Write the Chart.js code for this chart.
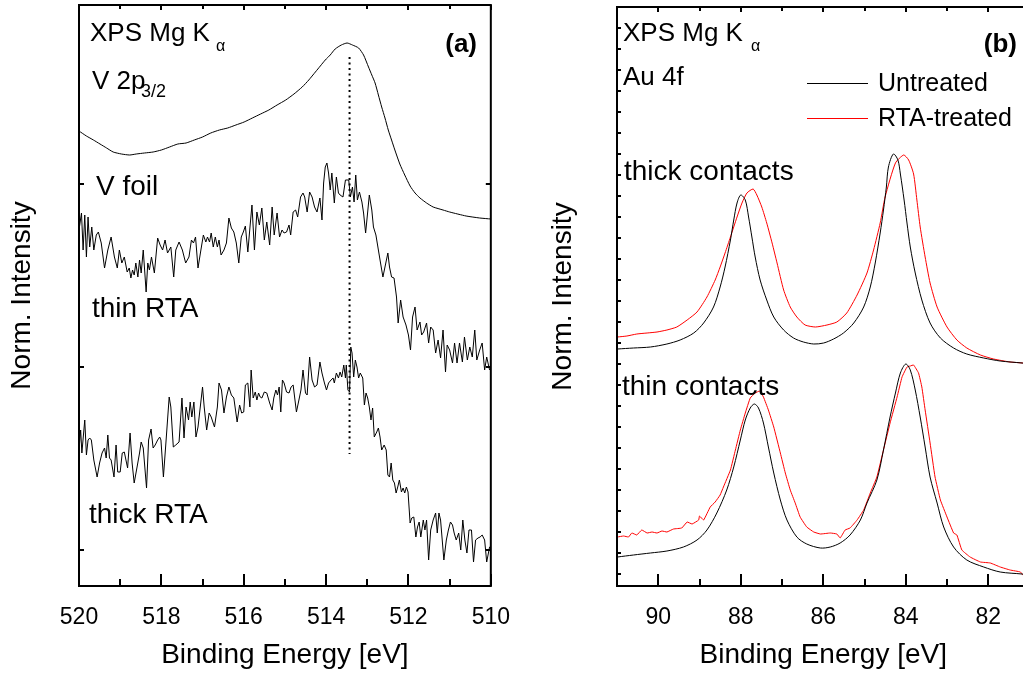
<!DOCTYPE html>
<html>
<head>
<meta charset="utf-8">
<script src="https://cdn.jsdelivr.net/npm/chart.js@4/dist/chart.umd.min.js"></script>
<style>
  html, body { margin: 0; padding: 0; background: #fff; overflow: hidden; width: 1023px; height: 674px; }
  canvas { position: absolute; top: 0; }
  #vPanel { left: 0; }
  #auPanel { left: 540px; }
</style>
</head>
<body>
<canvas id="vPanel" width="520" height="674"></canvas>
<canvas id="auPanel" width="510" height="674"></canvas>
<script>
// ---------- (a) V 2p3/2 spectra: binding energy [eV] / normalised intensity ----------
const vFoilE = [520.00,519.82,519.65,519.49,519.33,519.17,518.97,518.77,518.61,518.41,518.20,518.00,517.80,517.60,517.40,517.20,517.00,516.80,516.59,516.39,516.19,515.99,515.79,515.59,515.39,515.19,514.98,514.78,514.58,514.42,514.26,514.14,514.02,513.90,513.78,513.63,513.49,513.36,513.21,513.09,512.97,512.89,512.81,512.73,512.65,512.57,512.49,512.41,512.33,512.21,512.09,511.96,511.84,511.72,511.56,511.40,511.16,511.00,510.60,510.27,510.00];
const vFoilI = [4.19,4.14,4.10,4.06,4.02,3.98,3.96,3.95,3.96,3.97,3.98,4.00,4.03,4.06,4.07,4.10,4.13,4.17,4.20,4.22,4.25,4.28,4.32,4.36,4.40,4.45,4.50,4.56,4.63,4.70,4.78,4.84,4.90,4.95,5.01,5.05,5.07,5.05,5.02,4.95,4.83,4.75,4.67,4.55,4.43,4.32,4.20,4.10,4.00,3.86,3.75,3.64,3.57,3.52,3.47,3.43,3.40,3.38,3.34,3.32,3.31];

const thinRtaE = [
  520.00,519.94,519.90,519.86,519.82,519.78,519.74,519.69,519.64,519.58,
  519.53,519.46,519.38,519.30,519.22,519.14,519.07,519.02,518.96,518.90,
  518.83,518.78,518.74,518.70,518.66,518.62,518.57,518.53,518.49,518.44,
  518.37,518.33,518.29,518.24,518.17,518.09,518.03,517.97,517.91,517.85,
  517.77,517.70,517.65,517.57,517.49,517.41,517.33,517.27,517.22,517.17,
  517.11,517.04,516.98,516.92,516.88,516.83,516.79,516.74,516.69,516.64,
  516.60,516.55,516.48,516.42,516.36,516.30,516.24,516.18,516.12,516.06,
  516.01,515.96,515.90,515.85,515.80,515.74,515.68,515.62,515.56,515.50,
  515.44,515.37,515.31,515.26,515.19,515.13,515.07,
  515.02,514.96,514.90,514.86,514.80,514.74,514.69,514.62,514.56,514.52,
  514.46,514.40,514.34,514.28,514.22,514.15,514.10,514.06,514.02,513.98,
  513.94,513.90,513.86,513.80,513.75,513.70,513.66,513.59,513.53,513.45,
  513.41,513.36,513.32,513.28,513.24,513.19,513.13,513.09,513.04,512.99,
  512.95,512.89,512.85,512.79,512.73,512.69,512.62,512.57,512.50,512.46,
  512.41,512.35,512.29,512.25,512.19,512.13,512.06,512.00,511.95,511.90,
  511.84,511.79,511.72,511.68,511.63,511.56,511.51,511.46,511.40,511.34,
  511.28,511.22,511.16,511.10,511.06,511.00,510.93,510.88,510.82,510.76,
  510.69,510.64,510.57,510.51,510.45,510.39,510.34,510.27,510.21,510.15,
  510.10,510.03];
const thinRtaI = [
  3.20,3.37,3.00,3.35,2.93,3.33,3.03,3.23,3.00,3.15,
  3.18,3.07,2.82,3.00,3.13,2.93,2.82,3.00,2.87,2.93,
  2.78,2.82,2.72,2.80,2.75,2.87,2.73,2.90,2.77,3.00,
  2.58,2.87,2.80,2.93,2.77,3.12,3.05,3.00,3.10,2.97,
  3.03,2.73,3.00,3.08,3.00,2.87,2.93,3.10,3.07,3.13,
  2.82,3.00,3.15,3.08,3.13,3.08,3.17,3.03,3.13,3.03,
  3.10,2.95,3.00,3.07,3.32,3.22,3.18,3.07,2.87,3.13,
  3.18,3.24,2.98,3.22,3.45,3.00,3.38,3.25,3.42,3.10,
  3.28,3.05,3.43,3.15,3.37,3.13,3.20,
  3.17,3.18,3.25,3.15,3.38,3.40,3.33,3.53,3.57,3.53,
  3.38,3.58,3.53,3.43,3.38,3.52,3.30,3.67,3.83,3.87,
  3.77,3.60,3.77,3.47,3.73,3.57,3.55,3.53,3.70,3.70,
  3.53,3.63,3.48,3.75,3.50,3.58,3.48,3.37,3.17,3.38,
  3.55,3.40,3.23,3.15,3.00,2.90,2.73,2.83,2.97,2.83,
  2.73,2.72,2.53,2.27,2.50,2.33,2.25,2.15,2.00,2.33,
  2.43,2.20,2.28,2.15,2.18,2.27,2.07,2.23,2.20,1.97,
  2.10,1.92,2.20,1.78,2.05,2.00,1.87,2.07,1.87,2.07,
  1.88,2.13,1.90,2.03,1.93,2.20,1.90,2.00,2.07,1.80,
  1.93,1.80];

const thickRtaE = [
  520.00,519.96,519.93,519.86,519.82,519.78,519.74,519.70,519.64,519.56,
  519.50,519.44,519.38,519.34,519.30,519.26,519.22,519.15,519.10,519.06,
  519.00,518.95,518.90,518.86,518.82,518.76,518.71,518.66,518.59,518.53,
  518.49,518.44,518.36,518.31,518.25,518.20,518.15,518.09,518.04,518.01,
  517.95,517.89,517.81,517.77,517.71,517.65,517.57,517.50,517.45,517.40,
  517.34,517.30,517.26,517.21,517.16,517.11,517.00,516.96,516.90,516.84,
  516.79,516.71,516.64,516.60,516.54,516.48,516.42,516.36,516.30,516.24,
  516.16,516.10,516.05,516.00,515.96,515.90,515.85,515.82,515.77,515.72,
  515.68,515.64,515.60,515.56,515.50,515.44,515.37,515.31,515.27,515.22,
  515.18,515.14,515.10,515.06,
  515.02,514.96,514.90,514.85,514.80,514.72,514.66,514.61,514.56,514.50,
  514.46,514.40,514.34,514.28,514.22,514.15,514.10,514.04,513.99,513.94,
  513.88,513.83,513.80,513.75,513.70,513.66,513.62,513.57,513.53,513.51,
  513.47,513.43,513.40,513.37,513.33,513.29,513.25,513.21,513.17,513.11,
  513.07,513.03,512.99,512.95,512.91,512.87,512.83,512.77,512.73,512.69,
  512.65,512.59,512.54,512.50,512.46,512.42,512.38,512.34,512.30,512.26,
  512.22,512.17,512.13,512.09,512.05,512.01,511.96,511.92,511.87,511.82,
  511.78,511.74,511.70,511.64,511.60,511.56,511.51,511.46,511.40,511.34,
  511.30,511.26,511.22,511.18,511.14,511.08,511.03,510.98,510.93,510.89,
  510.84,510.78,510.73,510.68,510.63,510.58,510.53,510.47,510.42,510.37,
  510.31,510.26,510.21,510.15,510.10,510.03,510.00];
const thickRtaI = [
  1.00,1.20,0.97,1.30,0.95,1.10,1.12,1.10,0.90,0.73,
  0.87,0.97,1.02,0.92,1.15,0.92,0.90,0.73,1.05,0.78,
  0.78,0.97,0.98,0.90,0.82,1.17,0.87,0.67,0.83,0.97,
  1.08,1.02,0.62,1.10,1.21,1.02,1.05,1.10,1.13,1.10,
  0.73,1.07,1.53,1.43,1.03,1.05,1.08,1.52,1.12,1.43,
  1.30,1.48,1.33,1.48,1.13,1.23,1.63,1.43,1.20,1.37,
  1.33,1.23,1.43,1.67,1.60,1.37,1.53,1.63,1.55,1.52,
  1.28,1.45,1.37,1.38,1.65,1.67,1.43,1.80,1.52,1.58,
  1.50,1.57,1.53,1.52,1.58,1.57,1.47,1.40,1.52,1.60,
  1.55,1.63,1.38,1.70,
  1.67,1.58,1.57,1.63,1.65,1.38,1.50,1.60,1.80,1.57,
  1.55,1.93,1.70,1.63,1.65,1.88,1.77,1.67,1.60,1.67,
  1.70,1.72,1.67,1.77,1.72,1.78,1.73,1.85,1.72,1.85,
  1.60,1.58,2.03,1.97,1.73,1.90,1.83,1.72,1.77,1.72,
  1.45,1.57,1.52,1.43,1.30,1.42,1.13,1.18,1.22,1.13,
  1.00,1.05,1.00,0.75,0.73,0.87,0.70,0.67,0.57,0.63,
  0.70,0.58,0.62,0.57,0.63,0.58,0.27,0.32,0.33,0.13,
  0.23,0.28,0.13,0.30,0.20,0.30,-0.10,0.20,0.30,0.37,
  0.17,0.37,0.30,0.10,-0.10,0.10,0.20,0.28,0.25,0.17,
  0.10,0.17,0.00,0.30,0.10,-0.03,0.20,0.20,-0.12,0.10,
  0.12,0.13,0.15,0.10,-0.12,0.03,0.03];

// V-foil peak position marker (dotted)
const peakMarkE = [513.43, 513.43];
const peakMarkI = [4.93, 0.96];

const vEnergyTicks = [520, 518, 516, 514, 512, 510];

// ---------- (b) Au 4f spectra ----------
const thickUntreatedE = [90.99,90.60,90.19,89.79,89.47,89.14,88.90,88.66,88.50,88.38,88.25,88.17,88.09,88.00,87.89,87.81,87.73,87.65,87.53,87.37,87.20,86.96,86.72,86.48,86.23,85.99,85.75,85.51,85.26,85.02,84.86,84.74,84.62,84.54,84.47,84.42,84.30,84.19,84.13,84.04,83.97,83.89,83.77,83.61,83.41,83.16,82.84,82.52,82.11,81.71,81.18,81.00];
const thickUntreatedI = [2.25,2.26,2.27,2.30,2.34,2.41,2.51,2.67,2.87,3.07,3.34,3.54,3.71,3.79,3.74,3.57,3.37,3.17,2.94,2.74,2.57,2.44,2.36,2.32,2.30,2.31,2.35,2.41,2.51,2.67,2.87,3.11,3.41,3.64,3.87,4.07,4.20,4.14,4.00,3.74,3.51,3.27,3.01,2.74,2.51,2.36,2.26,2.20,2.16,2.13,2.11,2.10];

const thickTreatedE = [90.99,90.76,90.52,90.27,90.03,89.79,89.55,89.30,89.06,88.82,88.62,88.50,88.38,88.25,88.09,87.97,87.85,87.70,87.61,87.49,87.37,87.24,87.12,86.96,86.80,86.64,86.44,86.19,85.91,85.67,85.43,85.18,84.94,84.78,84.62,84.50,84.25,84.05,83.93,83.81,83.73,83.65,83.53,83.41,83.24,83.00,82.76,82.52,82.19,81.87,81.47,81.16,81.00];
const thickTreatedI = [2.37,2.38,2.40,2.41,2.42,2.44,2.47,2.54,2.62,2.77,2.94,3.07,3.21,3.37,3.57,3.71,3.81,3.85,3.79,3.67,3.51,3.31,3.11,2.84,2.67,2.57,2.49,2.47,2.49,2.52,2.61,2.79,3.01,3.24,3.51,3.77,4.11,4.19,4.14,4.00,3.74,3.47,3.17,2.91,2.67,2.47,2.34,2.26,2.19,2.15,2.12,2.11,2.10];

const thinUntreatedE = [90.99,90.60,90.19,89.79,89.39,89.06,88.82,88.58,88.34,88.17,88.01,87.89,87.77,87.67,87.57,87.45,87.33,87.20,87.04,86.88,86.64,86.40,86.07,85.83,85.59,85.35,85.10,84.94,84.70,84.54,84.38,84.25,84.13,84.00,83.89,83.77,83.65,83.53,83.41,83.24,83.08,82.84,82.52,82.11,81.71,81.18,81.00];
const thinUntreatedI = [0.17,0.19,0.21,0.23,0.27,0.34,0.44,0.61,0.84,1.07,1.34,1.54,1.66,1.70,1.66,1.51,1.27,1.01,0.74,0.54,0.37,0.30,0.26,0.27,0.31,0.39,0.54,0.71,0.94,1.24,1.57,1.81,2.01,2.10,2.04,1.84,1.57,1.27,0.97,0.71,0.47,0.27,0.14,0.07,0.02,0.00,-0.01];

const thinTreatedE = [90.99,90.84,90.72,90.64,90.52,90.40,90.27,90.15,90.03,89.91,89.79,89.63,89.43,89.30,89.18,89.02,89.00,88.90,88.74,88.62,88.50,88.42,88.25,88.13,88.01,87.89,87.77,87.65,87.54,87.45,87.33,87.20,87.04,86.92,86.80,86.68,86.56,86.40,86.23,86.07,85.83,85.67,85.59,85.47,85.35,85.18,85.02,84.86,84.70,84.54,84.38,84.21,84.09,83.97,83.89,83.81,83.69,83.61,83.53,83.41,83.29,83.16,83.00,82.84,82.76,82.64,82.44,82.19,81.95,81.71,81.47,81.22,81.16,81.00];
const thinTreatedI = [0.37,0.38,0.37,0.41,0.39,0.44,0.41,0.42,0.41,0.43,0.42,0.45,0.46,0.52,0.50,0.54,0.58,0.54,0.67,0.72,0.79,0.87,1.04,1.24,1.44,1.61,1.76,1.81,1.83,1.77,1.64,1.47,1.21,1.01,0.84,0.71,0.57,0.47,0.42,0.40,0.41,0.40,0.36,0.44,0.46,0.54,0.64,0.81,0.97,1.24,1.51,1.77,1.97,2.07,2.08,2.09,2.01,1.87,1.64,1.31,0.97,0.74,0.57,0.41,0.39,0.24,0.17,0.12,0.11,0.07,0.04,0.02,-0.01,0.00];

const auEnergyTicks = [90, 88, 86, 84, 82];

const seriesNames = ['Untreated', 'RTA-treated'];

// ---------- shared drawing helpers ----------
const FONT = "'Liberation Sans', Arial, Helvetica, sans-serif";
Chart.defaults.font.family = FONT;
Chart.defaults.color = '#000';

const pairs = (e, v) => e.map((x, i) => ({ x, y: v[i] }));

// Closed frame with inward-pointing ticks on all four sides
const framePlugin = {
  id: 'frame',
  afterDatasetsDraw(chart, args, o) {
    const { ctx, chartArea: a, scales: { x, y } } = chart;
    ctx.save();
    ctx.strokeStyle = '#000';
    ctx.lineCap = 'butt';
    ctx.lineWidth = 2;
    ctx.beginPath();
    const majors = x.ticks.map(t => t.value);
    for (let v = Math.ceil(x.min); v <= Math.floor(x.max); v++) {
      const px = Math.round(x.getPixelForValue(v));
      const major = majors.includes(v);
      const lb = major ? o.xMajor : o.xMinor;
      const lt = major ? o.topMajor : o.topMinor;
      ctx.moveTo(px, a.bottom); ctx.lineTo(px, a.bottom - lb);
      ctx.moveTo(px, a.top); ctx.lineTo(px, a.top + lt);
    }
    const k0 = Math.ceil(y.min / o.yStep - 1e-6), k1 = Math.floor(y.max / o.yStep + 1e-6);
    for (let k = k0; k <= k1; k++) {
      const py = Math.round(y.getPixelForValue(k * o.yStep));
      ctx.moveTo(a.left, py); ctx.lineTo(a.left + o.yLen, py);
      ctx.moveTo(a.right, py); ctx.lineTo(a.right - o.yLen, py);
    }
    ctx.stroke();
    ctx.strokeRect(a.left, a.top, a.right - a.left, a.bottom - a.top);
    ctx.restore();
  }
};

// Free text annotations inside the panels
const notesPlugin = {
  id: 'notes',
  afterDatasetsDraw(chart, args, o) {
    const { ctx } = chart;
    ctx.save();
    ctx.fillStyle = '#000';
    ctx.textBaseline = 'alphabetic';
    for (const n of o.items) {
      ctx.font = `${n.bold ? 'bold ' : ''}${n.size}px ${FONT}`;
      ctx.textAlign = n.align || 'left';
      ctx.fillText(n.text, n.x, n.y);
    }
    ctx.restore();
  }
};

// Line-sample legend built from the labelled datasets
const keyPlugin = {
  id: 'key',
  afterDatasetsDraw(chart, args, o) {
    if (!o.display) return;
    const { ctx } = chart;
    const items = chart.data.datasets.filter(d => d.label);
    ctx.save();
    ctx.font = `${o.size}px ${FONT}`;
    ctx.textBaseline = 'middle';
    ctx.textAlign = 'left';
    items.forEach((d, i) => {
      const yy = o.y + i * o.gap;
      ctx.strokeStyle = d.borderColor;
      ctx.lineWidth = 1;
      ctx.beginPath();
      ctx.moveTo(o.x, yy + 0.5); ctx.lineTo(o.x + o.len, yy + 0.5);
      ctx.stroke();
      ctx.fillStyle = '#000';
      ctx.fillText(d.label, o.x + o.len + 10, yy + 1);
    });
    ctx.restore();
  }
};

function axisOptions(xmin, xmax, ymin, ymax, tickList, yWidth, yTitlePad) {
  return {
    x: {
      type: 'linear', min: xmin, max: xmax, reverse: true,
      afterBuildTicks: s => { s.ticks = tickList.map(value => ({ value })); },
      afterFit: s => { s.height = 88; },
      grid: { display: false }, border: { display: false },
      ticks: { font: { size: 23 }, padding: 10, color: '#000', maxRotation: 0, autoSkip: false },
      title: { display: true, text: 'Binding Energy [eV]', font: { size: 28 }, color: '#000', padding: { top: 0, bottom: 2 } }
    },
    y: {
      type: 'linear', min: ymin, max: ymax,
      afterFit: s => { s.width = yWidth; },
      grid: { display: false }, border: { display: false },
      ticks: { display: false },
      title: { display: true, text: 'Norm. Intensity', font: { size: 28 }, color: '#000', padding: { top: yTitlePad, bottom: 0 } }
    }
  };
}

const baseLine = { borderColor: '#000', borderWidth: 1, pointRadius: 0, fill: false, tension: 0 };

// ---------- panel (a) ----------
new Chart(document.getElementById('vPanel'), {
  type: 'line',
  data: {
    datasets: [
      { ...baseLine, data: pairs(vFoilE, vFoilI), tension: 0.2 },
      { ...baseLine, data: pairs(thinRtaE, thinRtaI) },
      { ...baseLine, data: pairs(thickRtaE, thickRtaI) },
      { ...baseLine, data: pairs(peakMarkE, peakMarkI), borderWidth: 2, borderDash: [2, 3.5] }
    ]
  },
  options: {
    responsive: false, animation: false, devicePixelRatio: 1,
    layout: { padding: { top: 5, right: 27, left: 0, bottom: 0 } },
    plugins: {
      legend: { display: false }, tooltip: { enabled: false },
      frame: { xMajor: 12, xMinor: 7, topMajor: 5, topMinor: 4, yStep: 1.83, yLen: 5 },
      notes: { items: [
        { text: 'XPS Mg K', x: 90, y: 41, size: 26 },
        { text: 'α', x: 216, y: 51, size: 16 },
        { text: 'V 2p', x: 92, y: 89, size: 26 },
        { text: '3/2', x: 141, y: 97, size: 18 },
        { text: '(a)', x: 477, y: 52, size: 26, bold: true, align: 'right' },
        { text: 'V foil', x: 96, y: 195, size: 28 },
        { text: 'thin RTA', x: 92, y: 317, size: 28 },
        { text: 'thick RTA', x: 89, y: 523, size: 28 }
      ] },
      key: { display: false }
    },
    scales: axisOptions(510, 520, -0.36, 5.45, vEnergyTicks, 79, 5)
  },
  plugins: [framePlugin, notesPlugin, keyPlugin]
});

// ---------- panel (b) ----------
new Chart(document.getElementById('auPanel'), {
  type: 'line',
  data: {
    datasets: [
      { ...baseLine, label: seriesNames[0], data: pairs(thickUntreatedE, thickUntreatedI), tension: 0.3 },
      { ...baseLine, label: seriesNames[1], borderColor: '#ff0000', data: pairs(thickTreatedE, thickTreatedI), tension: 0.2 },
      { ...baseLine, data: pairs(thinUntreatedE, thinUntreatedI), tension: 0.3 },
      { ...baseLine, borderColor: '#ff0000', data: pairs(thinTreatedE, thinTreatedI), tension: 0.1 }
    ]
  },
  options: {
    responsive: false, animation: false, devicePixelRatio: 1,
    layout: { padding: { top: 7, right: 20.5, left: 0, bottom: 0 } },
    plugins: {
      legend: { display: false }, tooltip: { enabled: false },
      frame: { xMajor: 12, xMinor: 7, topMajor: 5, topMinor: 4, yStep: 0.21, yLen: 4 },
      notes: { items: [
        { text: 'XPS Mg K', x: 83, y: 41, size: 26 },
        { text: 'α', x: 211, y: 51, size: 16 },
        { text: 'Au 4f', x: 83, y: 85, size: 26 },
        { text: '(b)', x: 477, y: 52, size: 26, bold: true, align: 'right' },
        { text: 'thick contacts', x: 84, y: 180, size: 28 },
        { text: 'thin contacts', x: 82, y: 395, size: 28 }
      ] },
      key: { display: true, x: 267, y: 83, gap: 35, len: 61, size: 25 }
    },
    scales: axisOptions(81, 91, -0.12, 5.67, auEnergyTicks, 77, 6)
  },
  plugins: [framePlugin, notesPlugin, keyPlugin]
});
</script>
</body>
</html>
